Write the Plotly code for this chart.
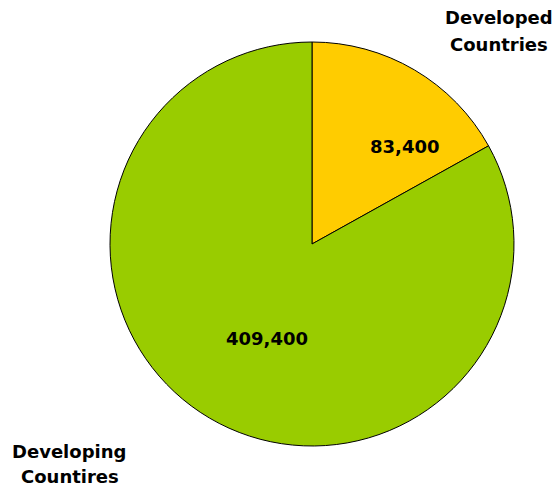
import plotly.graph_objects as go

categories = ["Developed Countries", "Developing Countires"]
values = [83400, 409400]
colors = ["#FFCC00", "#99CC00"]

W, H = 557, 487
FONT = "DejaVu Sans"

fig = go.Figure(go.Pie(
    labels=categories,
    values=values,
    sort=False,
    direction="clockwise",
    rotation=0,
    marker=dict(colors=colors, line=dict(color="#000000", width=1)),
    textinfo="none",
    hoverinfo="label+value",
    showlegend=False,
    domain=dict(x=[110 / W, 514 / W], y=[(243 - 202) / H, (243 + 202) / H]),
))

# value labels inside each slice
value_pos = [(404, 146), (267, 338)]
for v, (x, y) in zip(values, value_pos):
    fig.add_annotation(
        text=f"<b>{v:,}</b>", x=x / W, y=1 - y / H, xref="paper", yref="paper",
        xanchor="center", yanchor="middle", showarrow=False,
        font=dict(family=FONT, size=18, color="#000000"),
    )

# category captions outside the pie, one line per annotation
caption_lines = [
    ("Developed", 499, 17),
    ("Countries", 499, 44),
    ("Developing", 69, 451),
    ("Countires", 70, 476),
]
for txt, x, y in caption_lines:
    fig.add_annotation(
        text=f"<b>{txt}</b>", x=x / W, y=1 - y / H, xref="paper", yref="paper",
        xanchor="center", yanchor="middle", showarrow=False,
        font=dict(family=FONT, size=18, color="#000000"),
    )

fig.update_layout(
    width=W, height=H,
    margin=dict(l=0, r=0, t=0, b=0),
    paper_bgcolor="#FFFFFF",
    plot_bgcolor="#FFFFFF",
)

fig.write_html("out.html")
